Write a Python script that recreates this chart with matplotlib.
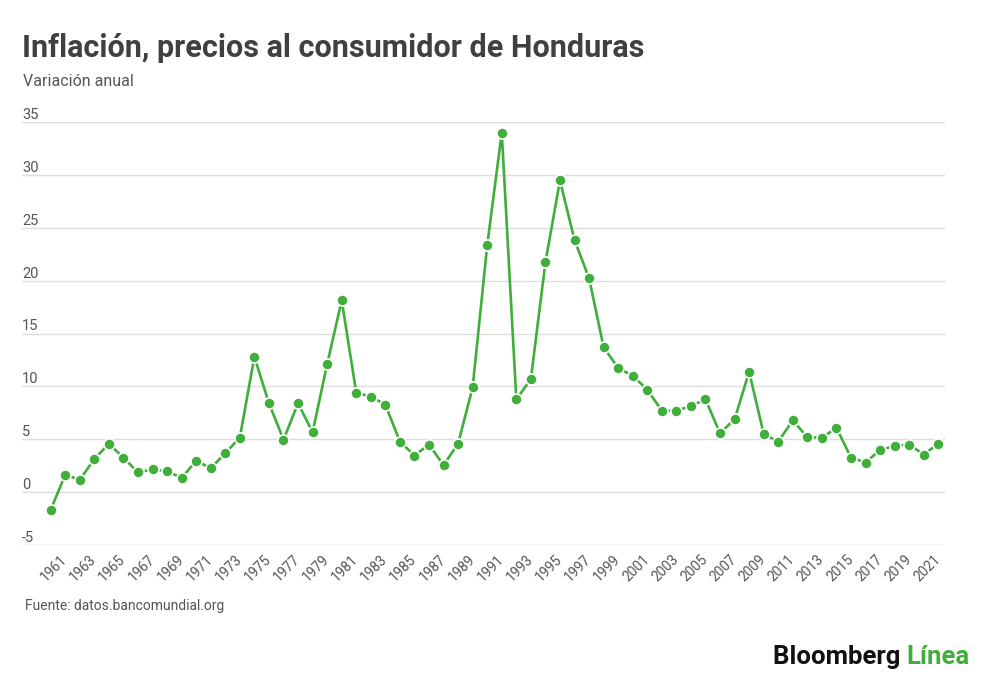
import matplotlib
matplotlib.use("Agg")
import matplotlib.pyplot as plt
import matplotlib.transforms as mtransforms

years = list(range(1960, 2022))
inflation = [-1.67, 1.64, 1.16, 3.14, 4.56, 3.27, 1.86, 2.14, 1.98, 1.35,
             2.96, 2.26, 3.68, 5.16, 12.8, 8.4, 4.97, 8.4, 5.66, 12.1,
             18.14, 9.40, 9.03, 8.27, 4.78, 3.46, 4.50, 2.55, 4.59, 9.91,
             23.33, 34.0, 8.77, 10.69, 21.73, 29.47, 23.84, 20.22, 13.71, 11.73,
             11.0, 9.69, 7.70, 7.70, 8.14, 8.77, 5.57, 6.89, 11.38, 5.50,
             4.78, 6.79, 5.19, 5.16, 6.07, 3.27, 2.80, 3.99, 4.37, 4.50,
             3.55, 4.59]
y_ticks = [-5, 0, 5, 10, 15, 20, 25, 30, 35]
x_ticks = list(range(1961, 2022, 2))

title = "Inflación, precios al consumidor de Honduras"
subtitle = "Variación anual"
source = "Fuente: datos.bancomundial.org"

GREEN = "#3fae3a"
GRAY = "#555555"
plt.rcParams['font.family'] = ['Roboto', 'DejaVu Sans']

fig = plt.figure(figsize=(10, 6.89), dpi=100)
ax = fig.add_axes([0.022, 1 - 545 / 689, 0.945 - 0.022, (545 - 122) / 689])

ax.plot(years, inflation, color=GREEN, lw=1.9, marker='o', ms=8,
        mfc=GREEN, mec='white', mew=1.2, zorder=3, clip_on=False)

ax.set_xlim(1958.03, 2021.46)
ax.set_ylim(-5, 35)
ax.set_yticks(y_ticks)
ax.yaxis.grid(True, color='#dddddd', lw=1)
ax.set_axisbelow(True)
ax.tick_params(axis='y', length=0, labelleft=False)
for s in ax.spines.values():
    s.set_visible(False)

trans = mtransforms.blended_transform_factory(ax.transAxes, ax.transData)
for v in y_ticks:
    ax.text(0.0, v, str(v), transform=trans, ha='left', va='bottom',
            fontsize=10.5, color=GRAY)

ax.set_xticks(x_ticks)
ax.set_xticklabels([str(x) for x in x_ticks], rotation=45, ha='right',
                   va='center', rotation_mode='anchor', fontsize=10, color=GRAY)
ax.tick_params(axis='x', length=0, pad=9)

fig.text(0.022, 1 - 48 / 689, title, fontsize=22, fontweight='bold',
         color='#404040', va='center', ha='left')
fig.text(0.023, 1 - 81 / 689, subtitle, fontsize=11.5, color=GRAY,
         va='center', ha='left')
fig.text(0.025, 1 - 606 / 689, source, fontsize=10, color=GRAY,
         va='center', ha='left')

t1 = fig.text(0.773, 1 - 657 / 689, "Bloomberg ", fontsize=18.5,
              fontweight='bold', color='#111111', va='center', ha='left')
fig.canvas.draw()
bb = t1.get_window_extent()
fig.text(bb.x1 / fig.bbox.width, 1 - 657 / 689, "Línea", fontsize=18.5,
         fontweight='bold', color=GREEN, va='center', ha='left')

fig.savefig("out.png", dpi=100, facecolor='white')
